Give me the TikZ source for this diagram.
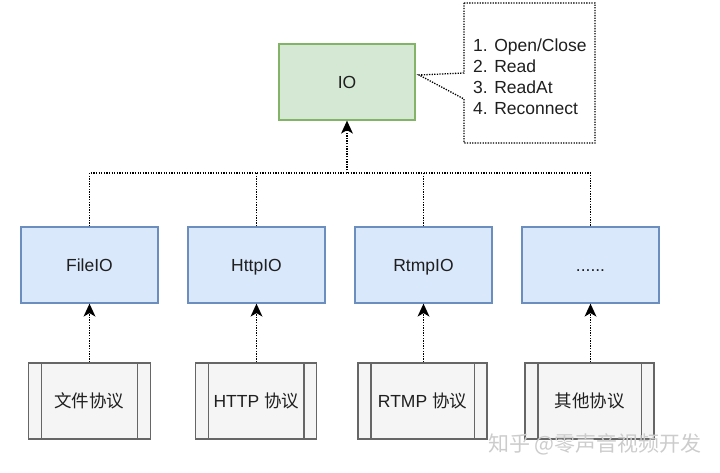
\documentclass[tikz,border=0pt]{standalone}
\usepackage{fontspec}
\setmainfont{Liberation Sans}
\newfontfamily\cjk{Noto Sans CJK SC}
\usetikzlibrary{arrows.meta}
\definecolor{iofill}{HTML}{D5E8D4}
\definecolor{ioline}{HTML}{82B366}
\definecolor{midfill}{HTML}{DAE8FC}
\definecolor{midline}{HTML}{6C8EBF}
\definecolor{lowfill}{HTML}{F5F5F5}
\definecolor{lowline}{HTML}{666666}
\tikzset{
  lbl/.style={font=\fontsize{17.5}{21}\selectfont, text=black!88},
  boxtext/.style={lbl, text height=12.5pt, text depth=0pt},
  iobox/.style={boxtext, draw=ioline, fill=iofill, line width=1.3pt, minimum width=136pt, minimum height=76pt, inner sep=0pt},
  midbox/.style={boxtext, draw=midline, fill=midfill, line width=1.3pt, minimum width=137pt, minimum height=76pt, inner sep=0pt},
  lowbox/.style={boxtext, draw=lowline, fill=lowfill, line width=1.3pt, minimum height=76pt, inner sep=0pt},
  conn/.style={dash pattern=on 1.3pt off 1.3pt, line width=1.3pt, black},
  arr/.style={conn, -{Stealth[length=13pt, width=12pt, inset=3.5pt, line width=0pt]}},
}
\begin{document}
\begin{tikzpicture}[x=1pt, y=-1pt]
\useasboundingbox (0,0) rectangle (720,473);
% top
\node[iobox] (io) at (347,82) {IO};
% callout
\coordinate (tip) at (419,75);
\draw[conn, fill=white] (464,3) -- (595,3) -- (595,143) -- (464,143) -- (464,99) -- (tip) -- (464,73) -- cycle;
\node[lbl, anchor=west, align=left, inner sep=0pt] (notes) at (473,77) {1. Open/Close\\2. Read\\3. ReadAt\\4. Reconnect};
% middle
\node[midbox] (m1) at (89.5,265) {FileIO};
\node[midbox] (m2) at (256.5,265) {HttpIO};
\node[midbox] (m3) at (423.5,265) {RtmpIO};
\node[midbox] (m4) at (590.5,265) {......};
% bottom
\node[lowbox, minimum width=122pt] (b1) at (89.3,401) {\cjk 文件协议};
\node[lowbox, minimum width=121pt] (b2) at (256.3,401) {HTTP {\cjk 协议}};
\node[lowbox, minimum width=129pt] (b3) at (422.5,401) {RTMP {\cjk 协议}};
\node[lowbox, minimum width=129pt] (b4) at (589.5,401) {\cjk 其他协议};
\foreach \b in {b1,b2,b3,b4}{
  \draw[lowline, line width=1.3pt] ([xshift=13.5pt]\b.north west) -- ([xshift=13.5pt]\b.south west);
  \draw[lowline, line width=1.3pt] ([xshift=-13.5pt]\b.north east) -- ([xshift=-13.5pt]\b.south east);
}
% connectors
\coordinate (bus) at (347,173);
\draw[arr] (bus) -- (io.south);
\draw[conn] (m1.north) |- (m4.north |- bus) -- (m4.north);
\draw[conn] (m2.north) -- (m2.north |- bus);
\draw[conn] (m3.north) -- (m3.north |- bus);
\foreach \i in {1,2,3,4}{
  \draw[arr] (b\i.north -| m\i.south) -- (m\i.south);
}
% watermark
\node[font=\cjk\fontsize{21}{24}\selectfont, text=black!20, inner sep=0pt, anchor=west] (wm) at (488,444) {知乎 @零声音视频开发};
\end{tikzpicture}
\end{document}
